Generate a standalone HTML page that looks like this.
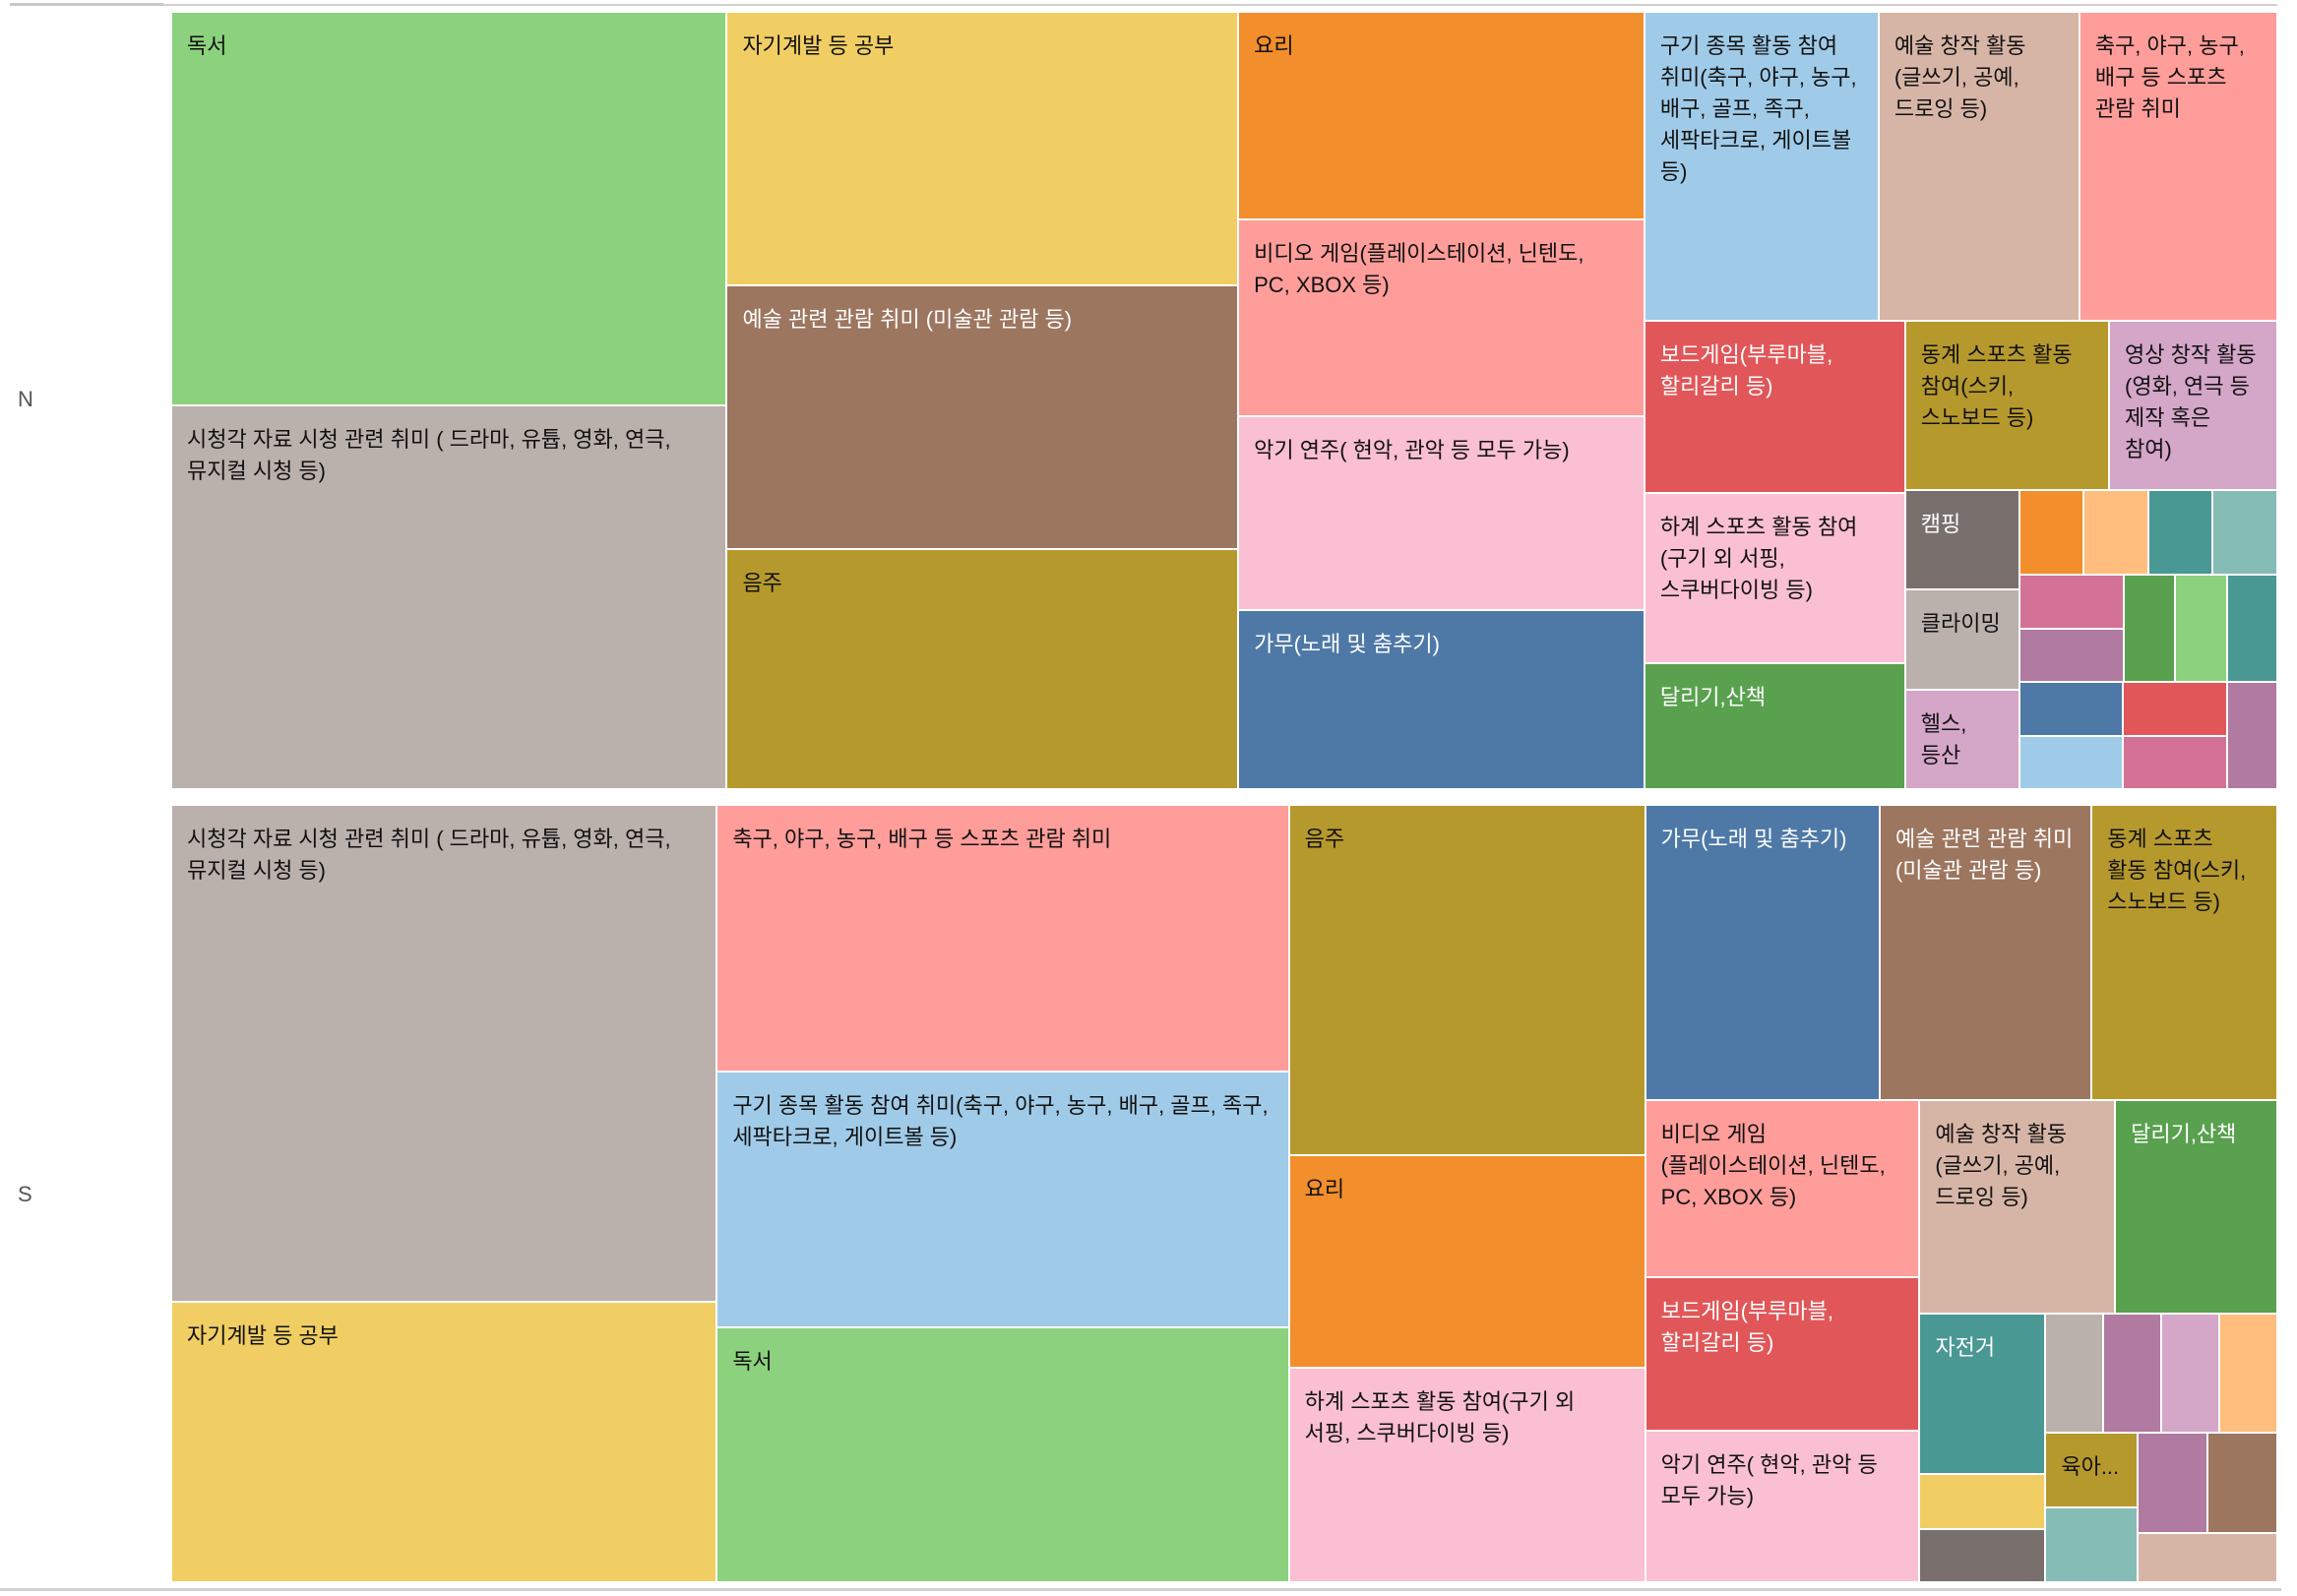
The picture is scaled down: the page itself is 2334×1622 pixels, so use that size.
<!DOCTYPE html>
<html><head><meta charset="utf-8">
<style>
body{margin:0;background:#fff;width:2334px;height:1622px;overflow:hidden;font-family:"Liberation Sans","Noto Sans CJK KR",sans-serif;}
#c{position:relative;width:2334px;height:1622px;}
.cell{position:absolute;box-sizing:border-box;overflow:hidden;}
.lbl{padding:18px 18px 0 15px;font-size:22px;line-height:32px;word-break:keep-all;overflow-wrap:normal;}
.row-lbl{position:absolute;font-size:22px;color:#555;}
.line{position:absolute;height:3px;background:#d0d0d0;}
</style></head><body>
<div id="c">
<div class="line" style="left:10px;top:3px;width:156px;background:#c8c8c8"></div>
<div class="line" style="left:166px;top:4px;width:2148px;height:2px"></div>
<div class="line" style="left:0;top:1614px;width:2318px;height:3px"></div>
<div class="row-lbl" style="left:18px;top:393px">N</div>
<div class="row-lbl" style="left:18px;top:1201px">S</div>
</div>
<script>
const C={blue:'#4e79a7',ltblue:'#a0cbe8',orange:'#f28e2b',ltorange:'#ffbe7d',green:'#59a14f',ltgreen:'#8cd17d',olive:'#b6992d',yellow:'#f1ce63',teal:'#499894',ltteal:'#86bcb6',red:'#e15759',salmon:'#ff9d9a',gray:'#79706e',ltgray:'#bab0ac',pink:'#d37295',ltpink:'#fabfd2',purple:'#b07aa1',ltpurple:'#d4a6c8',brown:'#9d7660',tan:'#d7b5a6'};
const WHITE_TEXT=['blue','green','teal','red','gray','brown','purple'];

const topCats=['독서','시청각 자료 시청 관련 취미 ( 드라마, 유튭, 영화, 연극, 뮤지컬 시청 등)','자기계발 등 공부','예술 관련 관람 취미 (미술관 관람 등)','음주','요리','비디오 게임(플레이스테이션, 닌텐도, PC, XBOX 등)','악기 연주( 현악, 관악 등 모두 가능)','가무(노래 및 춤추기)','구기 종목 활동 참여 취미(축구, 야구, 농구, 배구, 골프, 족구, 세팍타크로, 게이트볼 등)','예술 창작 활동(글쓰기, 공예, 드로잉 등)','축구, 야구, 농구, 배구 등 스포츠 관람 취미','보드게임(부루마블, 할리갈리 등)','하계 스포츠 활동 참여(구기 외 서핑, 스쿠버다이빙 등)','달리기,산책','동계 스포츠 활동 참여(스키, 스노보드 등)','영상 창작 활동(영화, 연극 등 제작 혹은 참여)','캠핑','클라이밍','헬스, 등산','','','','','','','','','','','','',''];
const topValues=[101.6,98.9,64.9,62.8,56.9,39.1,37.1,36.6,33.8,33.6,28.8,28.4,20.8,20.6,15.3,16.0,13.2,5.3,5.3,5.3,2.54,2.54,2.54,2.54,2.61,2.61,2.58,2.58,2.53,2.56,2.56,2.59,2.59,2.49];
const topColors=['ltgreen','ltgray','yellow','brown','olive','orange','salmon','ltpink','blue','ltblue','tan','salmon','red','ltpink','green','olive','ltpurple','gray','ltgray','ltpurple','orange','ltorange','teal','ltteal','pink','purple','green','ltgreen','teal','blue','ltblue','red','pink','purple'];
const topTree={d:'h',c:[{d:'v',c:[0,1]},{d:'v',c:[2,3,4]},{d:'v',c:[5,6,7,8]},{d:'v',c:[{d:'h',c:[9,10,11]},{d:'h',c:[{d:'v',c:[12,13,14]},{d:'v',c:[{d:'h',c:[15,16]},{d:'h',c:[{d:'v',c:[17,18,19]},{d:'v',c:[{d:'h',c:[20,21,22,23]},{d:'h',c:[{d:'v',c:[24,25]},26,27,28]},{d:'h',c:[{d:'v',c:[29,30]},{d:'v',c:[31,32]},33]}]}]}]}]}]}]};

const botCats=['시청각 자료 시청 관련 취미 ( 드라마, 유튭, 영화, 연극, 뮤지컬 시청 등)','자기계발 등 공부','축구, 야구, 농구, 배구 등 스포츠 관람 취미','구기 종목 활동 참여 취미(축구, 야구, 농구, 배구, 골프, 족구, 세팍타크로, 게이트볼 등)','독서','음주','요리','하계 스포츠 활동 참여(구기 외 서핑, 스쿠버다이빙 등)','가무(노래 및 춤추기)','예술 관련 관람 취미 (미술관 관람 등)','동계 스포츠 활동 참여(스키, 스노보드 등)','비디오 게임(플레이스테이션, 닌텐도, PC, XBOX 등)','보드게임(부루마블, 할리갈리 등)','악기 연주( 현악, 관악 등 모두 가능)','예술 창작 활동(글쓰기, 공예, 드로잉 등)','달리기,산책','자전거','','','','','','','육아...','','','',''];
const botValues=[126.1,71.1,71.0,67.9,67.9,58.1,35.2,35.5,32.2,29.1,25.5,22.6,19.6,19.3,19.4,16.1,9.37,3.24,3.12,3.22,3.22,3.22,3.22,3.18,3.23,3.24,3.24,3.21];
const botColors=['ltgray','yellow','salmon','ltblue','ltgreen','olive','orange','ltpink','blue','brown','olive','salmon','red','ltpink','tan','green','teal','yellow','gray','ltgray','purple','ltpurple','ltorange','olive','ltteal','purple','brown','tan'];
const botTree={d:'h',c:[{d:'v',c:[0,1]},{d:'v',c:[2,3,4]},{d:'v',c:[5,6,7]},{d:'v',c:[{d:'h',c:[8,9,10]},{d:'h',c:[{d:'v',c:[11,12,13]},{d:'v',c:[{d:'h',c:[14,15]},{d:'h',c:[{d:'v',c:[16,17,18]},{d:'v',c:[{d:'h',c:[19,20,21,22]},{d:'h',c:[{d:'v',c:[23,24]},{d:'v',c:[{d:'h',c:[25,26]},27]}]}]}]}]}]}]}]};

const root=document.getElementById('c');
function sum(n,vals){return typeof n==='number'?vals[n]:n.c.reduce((a,k)=>a+sum(k,vals),0);}
function layout(n,x,y,w,h,vals,cats,cols,panel){
  if(typeof n==='number'){
    const d=document.createElement('div');
    d.className='cell';
    
    
    d.style.left=(x+1)+'px';d.style.top=(y+1)+'px';
    d.style.width=Math.max(0,w-2)+'px';d.style.height=Math.max(0,h-2)+'px';
    d.style.background=C[cols[n]];
    if(cats[n]){
      const t=document.createElement('div');
      t.className='lbl';
      
      
      t.style.color=WHITE_TEXT.includes(cols[n])?'#fff':'#111';
      t.textContent=cats[n];
      d.appendChild(t);
    }
    root.appendChild(d);return;
  }
  const tot=sum(n,vals);let off=0;
  n.c.forEach(k=>{
    const f=sum(k,vals)/tot;
    if(n.d==='h'){const ww=w*f;layout(k,x+off,y,ww,h,vals,cats,cols,panel);off+=ww;}
    else{const hh=h*f;layout(k,x,y+off,w,hh,vals,cats,cols,panel);off+=hh;}
  });
}
layout(topTree,174,12,2140,790,topValues,topCats,topColors,'n');
layout(botTree,174,818,2140,790,botValues,botCats,botColors,'s');
</script>
</body></html>
